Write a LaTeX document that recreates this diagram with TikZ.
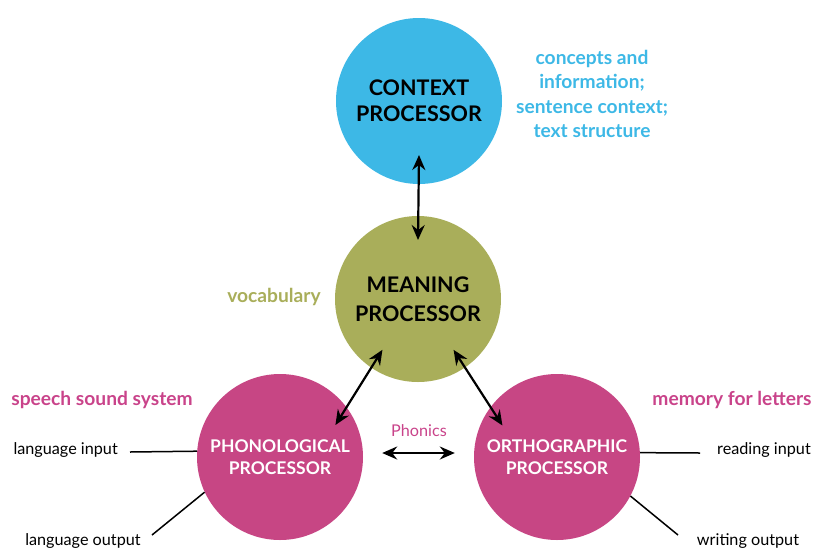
\documentclass[tikz,border=0pt]{standalone}
\usepackage{fontspec}
\setmainfont{Lato}
\usetikzlibrary{arrows.meta}
\definecolor{ContextBlue}{HTML}{3DB8E6}
\definecolor{MeaningOlive}{HTML}{A9AE5A}
\definecolor{ProcMagenta}{HTML}{C74684}
\definecolor{NoteMagenta}{HTML}{C9438A}

\begin{document}
\begin{tikzpicture}[
  x=1pt,y=-1pt,
  proc/.style={circle,minimum size=166pt,inner sep=0pt,align=center,
               font=\bfseries\fontsize{17.5}{22}\selectfont},
  note/.style={font=\bfseries\fontsize{19.2}{24.5}\selectfont,align=center},
  plain/.style={font=\fontsize{16.2}{18}\selectfont},
  link/.style={line width=2.2pt,{Stealth[length=15pt,width=13pt,inset=5pt]}-{Stealth[length=15pt,width=13pt,inset=5pt]}},
  io/.style={line width=1.5pt},
]
  \useasboundingbox (0,0) rectangle (814,550);

  % the four processors
  \node[proc,fill=ContextBlue,font=\bfseries\fontsize{21.5}{26}\selectfont] (ctx) at (419,101) {CONTEXT\\PROCESSOR};
  \node[proc,fill=MeaningOlive,font=\bfseries\fontsize{21.5}{29}\selectfont] (mean) at (418,299) {MEANING\\PROCESSOR};
  \node[proc,fill=ProcMagenta,text=white] (phono) at (280,457) {PHONOLOGICAL\\PROCESSOR};
  \node[proc,fill=ProcMagenta,text=white] (ortho) at (557,457) {ORTHOGRAPHIC\\PROCESSOR};

  % side notes
  \node[note,text=ContextBlue] (concepts) at (592,94)
    {concepts and\\information;\\sentence context;\\text structure};
  \node[note,text=MeaningOlive] (vocab) at (274,297) {vocabulary};
  \node[note,text=NoteMagenta] (speech) at (102,400) {speech sound system};
  \node[note,text=NoteMagenta] (letters) at (732,400) {memory for letters};
  \node[plain,text=NoteMagenta] (phonics) at (419,431) {Phonics};

  % inputs and outputs
  \node[plain,anchor=west] (langin) at (10,450) {language input};
  \node[plain] (langout) at (83,541) {language output};
  \node[plain] (readin) at (764,450) {reading input};
  \node[plain] (writeout) at (748,541) {writing output};
  \coordinate (langinEnd) at (130,452);
  \coordinate (langoutEnd) at (152,535);
  \coordinate (readinEnd) at (700,453);
  \coordinate (writeoutEnd) at (678,535);

  \draw[io] (langinEnd) -- (phono.176);
  \draw[io] (langoutEnd) -- (phono.205);
  \draw[io] (ortho.3) -- (readinEnd);
  \draw[io] (ortho.332) -- (writeoutEnd);

  % arrows between processors
  \draw[link] ([shift={(270:54pt)}]ctx.center) -- ([shift={(90:59pt)}]mean.center);
  \draw[link] ([shift={(235:62pt)}]mean.center) -- ([shift={(30:64pt)}]phono.center);
  \draw[link] ([shift={(305:62pt)}]mean.center) -- ([shift={(150:63pt)}]ortho.center);
  \draw[link,shorten <=19pt,shorten >=19pt] ([yshift=4pt]phono.east) -- ([yshift=4pt]ortho.west);
\end{tikzpicture}
\end{document}
